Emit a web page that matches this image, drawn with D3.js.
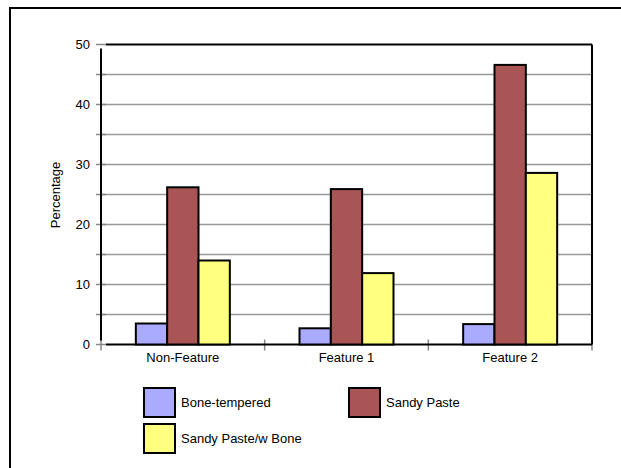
<!DOCTYPE html>
<html><head><meta charset="utf-8">
<script src="https://cdn.jsdelivr.net/npm/d3@7"></script>
<style>body{margin:0;background:#fff}svg{display:block;font-family:"Liberation Sans",Arial,sans-serif}</style>
</head><body><svg id="c" width="621" height="468"></svg>
<script>
const categories = ["Non-Feature", "Feature 1", "Feature 2"];
const seriesNames = ["Bone-tempered", "Sandy Paste", "Sandy Paste/w Bone"];
const boneTempered = [3.5, 2.7, 3.4];
const sandyPaste = [26.2, 25.9, 46.6];
const sandyPasteBone = [14.0, 11.9, 28.6];
const colors = ["#aaaaff", "#aa5555", "#ffff80"];
const yTicks = [0, 10, 20, 30, 40, 50];
const yMinor = [5, 15, 25, 35, 45];

const series = [boneTempered, sandyPaste, sandyPasteBone];
const svg = d3.select("#c");
svg.append("rect").attr("x", 10).attr("y", 8).attr("width", 640).attr("height", 500)
  .attr("fill", "none").attr("stroke", "#000").attr("stroke-width", 2);

const L = 101, R = 592, T = 44.5, B = 344.5;
const x = d3.scaleBand().domain(categories).range([L, R]);
const xs = d3.scaleBand().domain(d3.range(3)).range([0, 94]);
const y = d3.scaleLinear().domain([0, 50]).range([B, T]);

const grid = svg.append("g");
[...yTicks, ...yMinor].filter(v => v > 0 && v < 50).forEach(v => {
  grid.append("line").attr("x1", L).attr("x2", R).attr("y1", y(v)).attr("y2", y(v))
    .attr("stroke", "#999").attr("stroke-width", 1.5);
});
[...yTicks, ...yMinor].forEach(v => {
  svg.append("line").attr("x1", 96).attr("x2", 106).attr("y1", y(v)).attr("y2", y(v))
    .attr("stroke", "#888").attr("stroke-width", 1.5);
});
const bounds = categories.map(c => x(c)).concat([R]);
bounds.forEach(b => {
  svg.append("line").attr("x1", b).attr("x2", b).attr("y1", B - 5).attr("y2", B + 6)
    .attr("stroke", "#888").attr("stroke-width", 1.5);
});

svg.append("line").attr("x1", 106).attr("x2", R).attr("y1", T).attr("y2", T).attr("stroke", "#000").attr("stroke-width", 2);
svg.append("line").attr("x1", R).attr("x2", R).attr("y1", T).attr("y2", B).attr("stroke", "#000").attr("stroke-width", 2);
svg.append("line").attr("x1", L).attr("x2", L).attr("y1", T + 4).attr("y2", B - 4).attr("stroke", "#000").attr("stroke-width", 2);
svg.append("line").attr("x1", 106).attr("x2", R).attr("y1", B).attr("y2", B).attr("stroke", "#000").attr("stroke-width", 2);

categories.forEach((c, i) => {
  const gx = x(c) + x.bandwidth() / 2 - 47;
  series.forEach((s, j) => {
    svg.append("rect").attr("x", gx + xs(j)).attr("width", xs.bandwidth())
      .attr("y", y(s[i])).attr("height", B - y(s[i]))
      .attr("fill", colors[j]).attr("stroke", "#000").attr("stroke-width", 2);
  });
});

yTicks.forEach(v => {
  svg.append("text").attr("x", 90).attr("y", y(v) + 4.5).attr("text-anchor", "end")
    .attr("font-size", 13).text(v);
});
categories.forEach(c => {
  svg.append("text").attr("x", x(c) + x.bandwidth() / 2).attr("y", 362).attr("text-anchor", "middle")
    .attr("font-size", 13).text(c);
});
svg.append("text").attr("transform", "translate(60,195) rotate(-90)").attr("text-anchor", "middle")
  .attr("font-size", 13).text("Percentage");

const leg = [[144, 388], [349, 388], [144, 424]];
seriesNames.forEach((n, j) => {
  svg.append("rect").attr("x", leg[j][0]).attr("y", leg[j][1]).attr("width", 31).attr("height", 29)
    .attr("fill", colors[j]).attr("stroke", "#000").attr("stroke-width", 2);
  svg.append("text").attr("x", leg[j][0] + 37).attr("y", leg[j][1] + 19).attr("font-size", 13).text(n);
});
</script></body></html>
